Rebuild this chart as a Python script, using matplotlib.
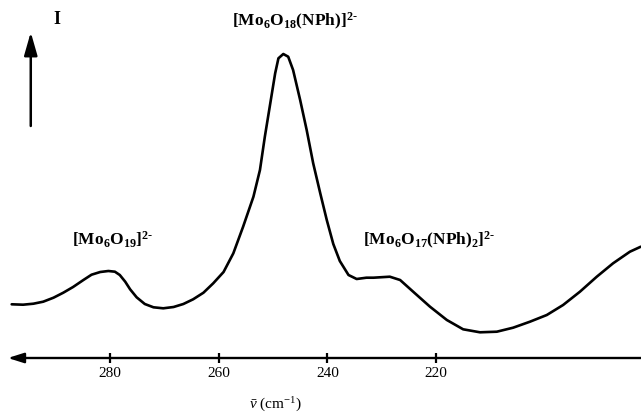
import matplotlib
matplotlib.use("Agg")
import matplotlib.pyplot as plt

plt.rcParams['font.family'] = ['Liberation Serif', 'DejaVu Serif']
plt.rcParams['mathtext.fontset'] = 'custom'
plt.rcParams['mathtext.rm'] = 'Liberation Serif'
plt.rcParams['mathtext.it'] = 'Liberation Serif:italic'
plt.rcParams['mathtext.bf'] = 'Liberation Serif:bold'

# spectrum: wavenumber (cm-1) vs intensity (arb. units)
wavenumber = [298.1, 296.0, 294.1, 292.3, 290.4, 288.6, 286.8, 284.9, 283.4, 281.8,
              280.3, 279.1, 278.2, 277.2, 276.3, 275.1, 273.6, 272.0, 270.2, 268.3,
              266.5, 264.7, 262.8, 261.0, 259.1, 257.3, 255.5, 253.6, 252.4, 251.5,
              250.6, 249.6, 249.0, 248.1, 247.2, 246.3, 245.0, 243.8, 242.6, 241.3,
              240.1, 238.9, 237.7, 236.1, 234.6, 232.8, 231.5, 228.5, 226.6, 224.2,
              221.1, 218.0, 215.0, 211.9, 208.8, 205.8, 202.7, 199.6, 196.6, 193.5,
              190.4, 187.4, 184.3, 182.3]
intensity = [53.7, 53.3, 54.3, 56.3, 60.3, 65.3, 71.0, 78.0, 83.3, 86.0,
             87.0, 86.3, 83.0, 76.3, 68.7, 60.7, 54.0, 50.7, 49.7, 51.0,
             54.0, 58.7, 65.3, 74.7, 86.0, 104.7, 131.3, 161.3, 188.0, 221.3,
             251.3, 284.7, 299.7, 304.0, 301.3, 288.0, 258.0, 228.0, 194.7, 164.7,
             138.0, 114.0, 97.0, 83.0, 79.0, 80.3, 80.3, 81.3, 78.0, 66.3,
             51.3, 38.0, 28.7, 25.7, 26.3, 30.3, 36.3, 43.0, 53.0, 66.3,
             81.3, 94.7, 106.3, 111.3]

tick_values = [280, 260, 240, 220]
species = [r'$\mathbf{[Mo_6O_{19}]^{2\text{-}}}$',
           r'$\mathbf{[Mo_6O_{18}(NPh)]^{2\text{-}}}$',
           r'$\mathbf{[Mo_6O_{17}(NPh)_2]^{2\text{-}}}$']

fig = plt.figure(figsize=(6.41, 4.13), dpi=100)
ax = fig.add_axes([0, 0, 1, 1])
ax.plot(wavenumber, intensity, color='black', lw=1.9,
        solid_joinstyle='round', solid_capstyle='round')
ax.set_xlim(300.25, 182.26)
ax.set_ylim(-55, 358)

# wavenumber axis drawn as an arrow pointing left
ax.annotate('', xy=(298.8, 0), xytext=(182.26, 0),
            arrowprops=dict(arrowstyle='-|>,head_length=0.95,head_width=0.3',
                            lw=1.7, color='black', shrinkA=0, shrinkB=0))
for s in ['left', 'right', 'top']:
    ax.spines[s].set_visible(False)
ax.spines['bottom'].set_position(('data', 0))
ax.spines['bottom'].set_visible(False)
ax.set_xticks(tick_values)
ax.set_xticklabels([str(t) for t in tick_values], fontsize=11)
ax.tick_params(axis='x', direction='inout', length=7, width=1.6, pad=3)
ax.set_yticks([])

# intensity arrow
ax.annotate('', xy=(0.048, 0.922), xytext=(0.048, 0.695), xycoords='axes fraction',
            textcoords='axes fraction',
            arrowprops=dict(arrowstyle='-|>,head_length=1.4,head_width=0.4',
                            lw=1.8, color='black', shrinkA=0, shrinkB=0))
ax.text(0.089, 0.952, 'I', transform=ax.transAxes, fontsize=13, fontweight='bold',
        ha='center', va='center')

ax.text(0.175, 0.419, species[0], transform=ax.transAxes, fontsize=12.5,
        ha='center', va='center')
ax.text(0.460, 0.949, species[1], transform=ax.transAxes, fontsize=12.5,
        ha='center', va='center')
ax.text(0.670, 0.419, species[2], transform=ax.transAxes, fontsize=12.5,
        ha='center', va='center')

ax.text(0.429, 0.02, r'$\bar{\nu}$ (cm$^{-1}$)', transform=ax.transAxes, fontsize=11,
        ha='center', va='center')

fig.savefig('out.png', dpi=100)
